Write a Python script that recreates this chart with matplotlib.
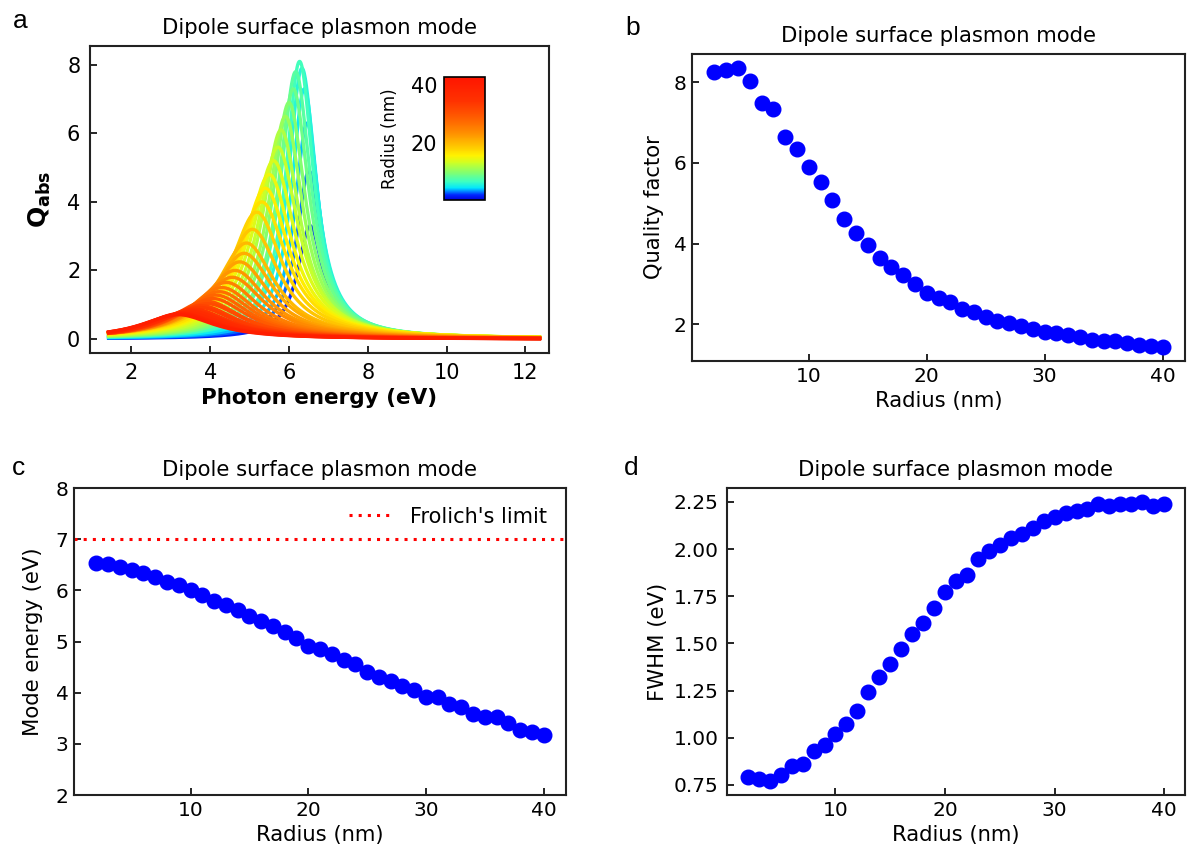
import numpy as np
import matplotlib
matplotlib.use("Agg")
import matplotlib.pyplot as plt
from matplotlib.colors import LinearSegmentedColormap, Normalize
from matplotlib.cm import ScalarMappable
from matplotlib.ticker import FormatStrFormatter

# ---------------- data ----------------
radius = [2, 3, 4, 5, 6, 7, 8, 9, 10, 11, 12, 13, 14, 15, 16, 17, 18, 19, 20,
          21, 22, 23, 24, 25, 26, 27, 28, 29, 30, 31, 32, 33, 34, 35, 36, 37,
          38, 39, 40]

quality_factor = [8.27, 8.31, 8.36, 8.04, 7.50, 7.33, 6.65, 6.36, 5.90, 5.53,
                  5.08, 4.61, 4.26, 3.96, 3.65, 3.41, 3.21, 3.00, 2.78, 2.66,
                  2.55, 2.37, 2.29, 2.18, 2.07, 2.02, 1.95, 1.88, 1.81, 1.79,
                  1.72, 1.69, 1.61, 1.59, 1.57, 1.53, 1.47, 1.46, 1.43]

mode_energy = [6.54, 6.51, 6.46, 6.39, 6.33, 6.27, 6.17, 6.11, 6.00, 5.91,
               5.80, 5.72, 5.61, 5.50, 5.40, 5.31, 5.18, 5.07, 4.92, 4.86,
               4.75, 4.63, 4.56, 4.41, 4.30, 4.23, 4.14, 4.06, 3.91, 3.92,
               3.77, 3.72, 3.58, 3.52, 3.52, 3.40, 3.27, 3.24, 3.18]

fwhm = [0.79, 0.78, 0.77, 0.80, 0.85, 0.86, 0.93, 0.96, 1.02, 1.07,
        1.14, 1.24, 1.32, 1.39, 1.47, 1.55, 1.61, 1.69, 1.77, 1.83,
        1.86, 1.95, 1.99, 2.02, 2.06, 2.08, 2.11, 2.15, 2.17, 2.19,
        2.20, 2.21, 2.24, 2.23, 2.24, 2.24, 2.25, 2.23, 2.24]

# peak absorption efficiency of each spectrum in panel a
peak_qabs = [3.3, 4.9, 6.3, 7.3, 7.9, 8.1, 7.8, 7.3, 6.9, 6.5,
             6.1, 5.6, 5.2, 4.8, 4.4, 4.0, 3.7, 3.2, 2.8, 2.5,
             2.25, 2.0, 1.8, 1.65, 1.5, 1.38, 1.28, 1.18, 1.10, 1.03,
             0.97, 0.92, 0.87, 0.83, 0.80, 0.77, 0.75, 0.73, 0.71]

frolich_limit = 7.0
energy_range = (1.38, 12.4)

# ---------------- style ----------------
plt.rcParams["font.family"] = ["DejaVu Sans"]
TICK = 14.5
LAB = 15.2
TITLE = 15.2

cmap = LinearSegmentedColormap.from_list("radius", [
    (0.00, (0.00, 0.00, 0.85)),
    (0.04, (0.00, 0.15, 1.00)),
    (0.095, (0.00, 0.90, 1.00)),
    (0.15, (0.25, 1.00, 0.75)),
    (0.22, (0.50, 1.00, 0.45)),
    (0.30, (0.80, 1.00, 0.15)),
    (0.36, (1.00, 0.95, 0.00)),
    (0.45, (1.00, 0.75, 0.00)),
    (0.55, (1.00, 0.55, 0.00)),
    (0.68, (1.00, 0.35, 0.00)),
    (0.80, (1.00, 0.20, 0.00)),
    (1.00, (1.00, 0.08, 0.00)),
])
norm = Normalize(vmin=0.5, vmax=42.7)

W, H = 1194, 855
fig = plt.figure(figsize=(W / 100, H / 100), dpi=100)


def px_axes(l, t, r, b):
    return fig.add_axes([l / W, 1 - b / H, (r - l) / W, (b - t) / H])


def style(ax, size=TICK, pad=4):
    ax.tick_params(direction="in", length=5, width=1.2, labelsize=size,
                   top=False, right=False, pad=pad)
    for s in ax.spines.values():
        s.set_linewidth(1.5)
        s.set_color("#222222")


# ---------------- panel a ----------------
axa = px_axes(90, 46, 549, 353)
E = np.linspace(energy_range[0], energy_range[1], 800)
for r, e0, w, a in zip(radius, mode_energy, fwhm, peak_qabs):
    hw = w / 2.0
    q = a * hw ** 2 / ((E - e0) ** 2 + hw ** 2)
    axa.plot(E, q, color=cmap(norm(r)), lw=2.4, solid_capstyle="butt")
axa.set_xlim(0.95, 12.6)
axa.set_ylim(-0.41, 8.55)
axa.set_xticks([2, 4, 6, 8, 10, 12])
axa.set_yticks([0, 2, 4, 6, 8])
axa.set_xlabel("Photon energy (eV)", fontsize=15.5, fontweight="bold",
               labelpad=4)
axa.set_ylabel(r"$\mathbf{Q_{abs}}$", fontsize=18, labelpad=10)
axa.set_title("Dipole surface plasmon mode", fontsize=TITLE, pad=9)
style(axa, size=15, pad=7)

cax = px_axes(444, 77, 485, 200)
cb = fig.colorbar(ScalarMappable(norm=norm, cmap=cmap), cax=cax)
cb.set_ticks([20, 40])
cax.yaxis.set_ticks_position("left")
cax.yaxis.set_label_position("left")
cax.tick_params(length=0, labelsize=15, pad=5)
cb.set_label("Radius (nm)", fontsize=12, labelpad=8)
cb.outline.set_linewidth(1.2)

# ---------------- panel b ----------------
axb = px_axes(692, 54, 1185, 361)
axb.plot(radius, quality_factor, "o", color="blue", ms=10.5)
axb.set_xticks([10, 20, 30, 40])
axb.set_yticks([2, 4, 6, 8])
axb.set_xlabel("Radius (nm)", fontsize=LAB)
axb.set_ylabel("Quality factor", fontsize=LAB, labelpad=7)
axb.set_title("Dipole surface plasmon mode", fontsize=TITLE, pad=9)
style(axb)

# ---------------- panel c ----------------
axc = px_axes(74, 488, 566, 795)
axc.axhline(frolich_limit, color="red", ls=(0, (1, 2)), lw=2.2,
            label="Frolich's limit")
axc.plot(radius, mode_energy, "o", color="blue", ms=10.5)
axc.set_ylim(2, 8)
axc.set_xticks([10, 20, 30, 40])
axc.set_yticks([2, 3, 4, 5, 6, 7, 8])
axc.set_xlabel("Radius (nm)", fontsize=LAB)
axc.set_ylabel("Mode energy (eV)", fontsize=LAB, labelpad=9)
axc.set_title("Dipole surface plasmon mode", fontsize=TITLE, pad=9)
axc.legend(loc="upper right", frameon=False, fontsize=15,
           handlelength=2.15, handletextpad=0.8)
style(axc)

# ---------------- panel d ----------------
axd = px_axes(727, 488, 1185, 795)
axd.plot(radius, fwhm, "o", color="blue", ms=10.5)
axd.set_xticks([10, 20, 30, 40])
axd.set_yticks([0.75, 1.00, 1.25, 1.50, 1.75, 2.00, 2.25])
axd.yaxis.set_major_formatter(FormatStrFormatter("%.2f"))
axd.set_xlabel("Radius (nm)", fontsize=LAB)
axd.set_ylabel("FWHM (eV)", fontsize=LAB, labelpad=4)
axd.set_title("Dipole surface plasmon mode", fontsize=TITLE, pad=9)
style(axd)
axd.tick_params(axis="y", labelsize=14.5, pad=6)

# ---------------- panel letters ----------------
lf = dict(fontsize=19, family=["Liberation Sans", "DejaVu Sans"])
fig.text(13 / W, 1 - 28 / H, "a", **lf)
fig.text(625 / W, 1 - 35 / H, "b", **lf)
fig.text(12 / W, 1 - 475 / H, "c", **lf)
fig.text(624 / W, 1 - 475 / H, "d", **lf)

fig.savefig("out.png", dpi=100)
